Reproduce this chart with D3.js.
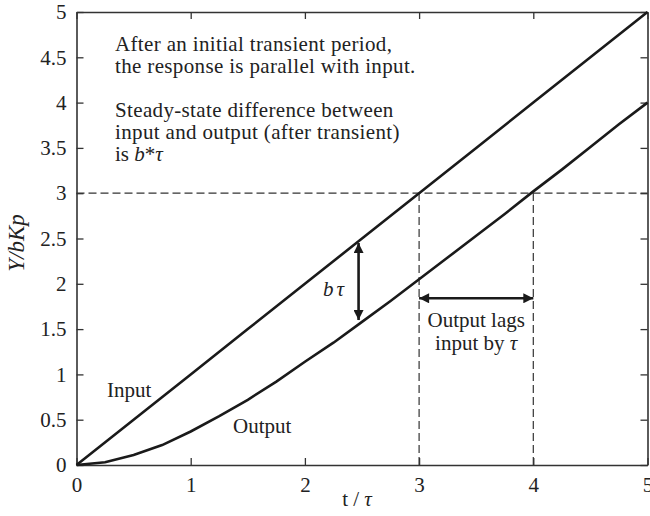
<!DOCTYPE html>
<html><head><meta charset="utf-8">
<script src="https://cdn.jsdelivr.net/npm/d3@7"></script>
<style>
html,body{margin:0;padding:0;background:#fff;}
svg{display:block;font-family:"Liberation Serif","Times New Roman",serif;}
</style></head>
<body>
<svg id="c" width="650" height="516"></svg>
<script>
// ---- data ----
const inputT = [0, 0.5, 1, 1.5, 2, 2.5, 3, 3.5, 4, 4.5, 5];
const inputY = [0, 0.5, 1, 1.5, 2, 2.5, 3, 3.5, 4, 4.5, 5];
const outputT = [0, 0.25, 0.5, 0.75, 1, 1.25, 1.5, 1.75, 2, 2.25, 2.5, 2.75, 3, 3.25, 3.5, 3.75, 4, 4.25, 4.5, 4.75, 5];
const outputY = [0, 0.03, 0.11, 0.22, 0.37, 0.54, 0.72, 0.92, 1.14, 1.35, 1.58, 1.81, 2.05, 2.29, 2.53, 2.77, 3.02, 3.26, 3.51, 3.76, 4.0];
const xTicks = [0, 1, 2, 3, 4, 5];
const yTicks = [0, 0.5, 1, 1.5, 2, 2.5, 3, 3.5, 4, 4.5, 5];
const yTickLabels = ["0", "0.5", "1", "1.5", "2", "2.5", "3", "3.5", "4", "4.5", "5"];
const refLevel = 3;          // horizontal dashed line
const lagStart = 3, lagEnd = 4; // vertical dashed lines
const gapT = 2.47, gapTop = 2.45, gapBottom = 1.6; // b*tau arrow
const lagArrowY = 1.84;

(function () {
const svg = d3.select("#c");
const L = 76.5, R = 647.5, T = 12, B = 465;
const x = d3.scaleLinear().domain([0, 5]).range([L, R]);
const y = d3.scaleLinear().domain([0, 5]).range([B, T]);
const ink = "#1a1a1a";

const defs = svg.append("defs");
defs.append("marker").attr("id", "ah").attr("viewBox", "0 0 10 10")
  .attr("refX", 10).attr("refY", 5).attr("markerWidth", 17).attr("markerHeight", 10)
  .attr("markerUnits", "userSpaceOnUse").attr("orient", "auto-start-reverse")
  .append("path").attr("d", "M0,0 L10,5 L0,10 Z").attr("fill", ink);

// dashed reference lines
const dash = svg.append("g").attr("stroke", "#333").attr("stroke-width", 1.2)
  .attr("stroke-dasharray", "8,4").attr("fill", "none");
dash.append("line").attr("x1", x(0)).attr("x2", x(5)).attr("y1", y(refLevel)).attr("y2", y(refLevel));
dash.append("line").attr("x1", x(lagStart)).attr("x2", x(lagStart)).attr("y1", y(0)).attr("y2", y(refLevel));
dash.append("line").attr("x1", x(lagEnd)).attr("x2", x(lagEnd)).attr("y1", y(0)).attr("y2", y(refLevel));

// axes (box with inward ticks)
const tickLen = 7;
const axG = svg.append("g");
axG.append("g").attr("transform", `translate(0,${B})`)
  .call(d3.axisBottom(x).tickValues(xTicks).tickSizeInner(-tickLen).tickSizeOuter(0).tickPadding(12).tickFormat(d3.format("d")));
axG.append("g").attr("transform", `translate(0,${T})`)
  .call(d3.axisTop(x).tickValues(xTicks).tickSizeInner(-tickLen).tickSizeOuter(0).tickFormat(""));
axG.append("g").attr("transform", `translate(${L},0)`)
  .call(d3.axisLeft(y).tickValues(yTicks).tickSizeInner(-tickLen).tickSizeOuter(0).tickPadding(10).tickFormat((d, i) => yTickLabels[i]));
axG.append("g").attr("transform", `translate(${R},0)`)
  .call(d3.axisRight(y).tickValues(yTicks).tickSizeInner(-tickLen).tickSizeOuter(0).tickFormat(""));
axG.selectAll(".domain").attr("stroke", "#333").attr("stroke-width", 1.6);
axG.selectAll(".tick line").attr("stroke", "#333").attr("stroke-width", 1.3);
axG.selectAll(".tick text").attr("font-family", "Liberation Serif").attr("font-size", 21).attr("fill", "#222");

// lines
const line = d3.line().x(d => x(d[0])).y(d => y(d[1]));
svg.append("path").datum(inputT.map((t, i) => [t, inputY[i]]))
  .attr("d", line).attr("fill", "none").attr("stroke", ink).attr("stroke-width", 2.6);
svg.append("path").datum(outputT.map((t, i) => [t, outputY[i]]))
  .attr("d", line).attr("fill", "none").attr("stroke", ink).attr("stroke-width", 2.6);

// arrows
svg.append("line").attr("x1", x(gapT)).attr("x2", x(gapT)).attr("y1", y(gapTop)).attr("y2", y(gapBottom))
  .attr("stroke", ink).attr("stroke-width", 2.6)
  .attr("marker-start", "url(#ah)").attr("marker-end", "url(#ah)");
svg.append("line").attr("x1", x(lagStart)).attr("x2", x(lagEnd)).attr("y1", y(lagArrowY)).attr("y2", y(lagArrowY))
  .attr("stroke", ink).attr("stroke-width", 2.6)
  .attr("marker-start", "url(#ah)").attr("marker-end", "url(#ah)");

// text
const fs = 21;
const txt = svg.append("g").attr("font-family", "Liberation Serif").attr("font-size", fs).attr("fill", "#222");
const lines1 = [
  ["After an initial transient period,", 51],
  ["the response is parallel with input.", 73],
  ["Steady-state difference between", 117],
  ["input and output (after transient)", 139]
];
lines1.forEach(([s, yy]) => txt.append("text").attr("x", 115).attr("y", yy).attr("letter-spacing", 0.35).text(s));
const t5 = txt.append("text").attr("x", 115).attr("y", 161);
t5.append("tspan").text("is ");
t5.append("tspan").attr("font-style", "italic").text("b");
t5.append("tspan").text("*");
t5.append("tspan").attr("font-style", "italic").text("τ");

txt.append("text").attr("x", 107).attr("y", 397).text("Input");
txt.append("text").attr("x", 233).attr("y", 433).text("Output");

const bt = txt.append("text").attr("x", 323).attr("y", 296).attr("font-style", "italic");
bt.append("tspan").text("b");
bt.append("tspan").attr("dx", 3).text("τ");

txt.append("text").attr("x", (x(lagStart) + x(lagEnd)) / 2).attr("y", 327).attr("text-anchor", "middle").text("Output lags");
const ib = txt.append("text").attr("x", (x(lagStart) + x(lagEnd)) / 2).attr("y", 350).attr("text-anchor", "middle");
ib.append("tspan").text("input by ");
ib.append("tspan").attr("font-style", "italic").text("τ");

const xl = txt.append("text").attr("x", 357).attr("y", 506).attr("text-anchor", "middle");
xl.append("tspan").text("t / ");
xl.append("tspan").attr("font-style", "italic").text("τ");

txt.append("text").attr("transform", "translate(24,243) rotate(-90)").attr("text-anchor", "middle")
  .attr("font-size", 23).attr("font-style", "italic").text("Y/bKp");
})();
</script>
</body></html>
